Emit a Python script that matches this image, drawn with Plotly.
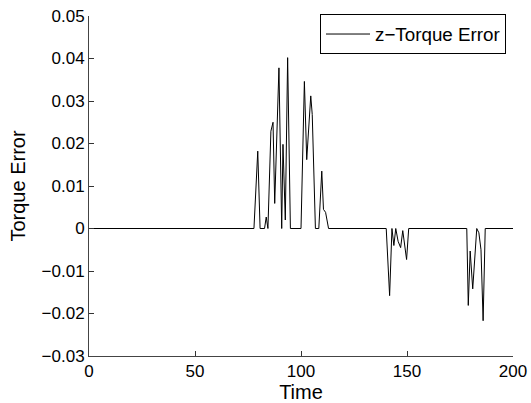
import plotly.graph_objects as go

time = [0, 77.8, 79.6, 80.7, 82.8, 83.6, 84.4, 85.8, 86.8, 87.6, 89.6, 90.9, 91.5, 92.6, 93.7, 95.0,
        100.0, 101.6, 102.7, 104.6, 105.3, 106.8, 108.4, 109.8, 110.6, 111.6, 113.0,
        140.2, 141.8, 142.9, 143.8, 144.7, 145.8, 147.0, 148.0, 149.8, 150.8,
        178.2, 178.9, 179.8, 181.0, 182.9, 183.9, 184.9, 185.9, 186.9, 200]
torque_err = [0, 0, 0.0182, 0, 0, 0.0027, 0, 0.0229, 0.0250, 0.0059, 0.0378, 0, 0.0198, 0.0020, 0.0402, 0,
              0, 0.0346, 0.0162, 0.0312, 0.0268, 0, 0, 0.0135, 0.0045, 0.0038, 0,
              0, -0.0158, 0, -0.0040, 0, -0.0030, -0.0045, -0.0005, -0.0073, 0,
              0, -0.0181, -0.0053, -0.0142, 0, -0.0010, -0.0050, -0.0217, 0, 0]

x_ticks = [0, 50, 100, 150, 200]
y_ticks = [-0.03, -0.02, -0.01, 0, 0.01, 0.02, 0.03, 0.04, 0.05]
y_tick_text = ["\u22120.03", "\u22120.02", "\u22120.01", "0", "0.01", "0.02", "0.03", "0.04", "0.05"]

FAM = "Liberation Sans, Arial, Helvetica, sans-serif"

fig = go.Figure()
fig.add_trace(go.Scatter(x=time, y=torque_err, mode="lines", name="z\u2212Torque Error",
                         line=dict(color="black", width=1)))

fig.update_layout(
    width=531, height=403,
    margin=dict(l=89, r=18, t=16, b=47, autoexpand=False),
    paper_bgcolor="white", plot_bgcolor="white",
    font=dict(family=FAM, size=17, color="black"),
    showlegend=True,
    legend=dict(x=0.9835, y=1.005, xanchor="right", yanchor="top",
                bgcolor="white", bordercolor="black", borderwidth=1,
                font=dict(family=FAM, size=18.8, color="black"),
                itemwidth=44),
    xaxis=dict(range=[0, 200], tickvals=x_ticks, ticks="inside", ticklen=5, tickcolor="#333",
               showline=True, linecolor="#444", linewidth=1, showgrid=False, zeroline=False,
               automargin=False, title=dict(text="Time", standoff=0), mirror=False),
    yaxis=dict(range=[-0.03, 0.05], tickvals=y_ticks, ticktext=y_tick_text, ticks="inside",
               ticklen=5, tickcolor="#333", showline=True, linecolor="#444", linewidth=1,
               showgrid=False, zeroline=False, automargin=False,
               title=dict(text="Torque Error", standoff=10), mirror=False),
)

fig.write_html("out.html", config={"displayModeBar": False},
               post_script="document.body.style.margin='0';document.body.style.overflow='hidden';")
